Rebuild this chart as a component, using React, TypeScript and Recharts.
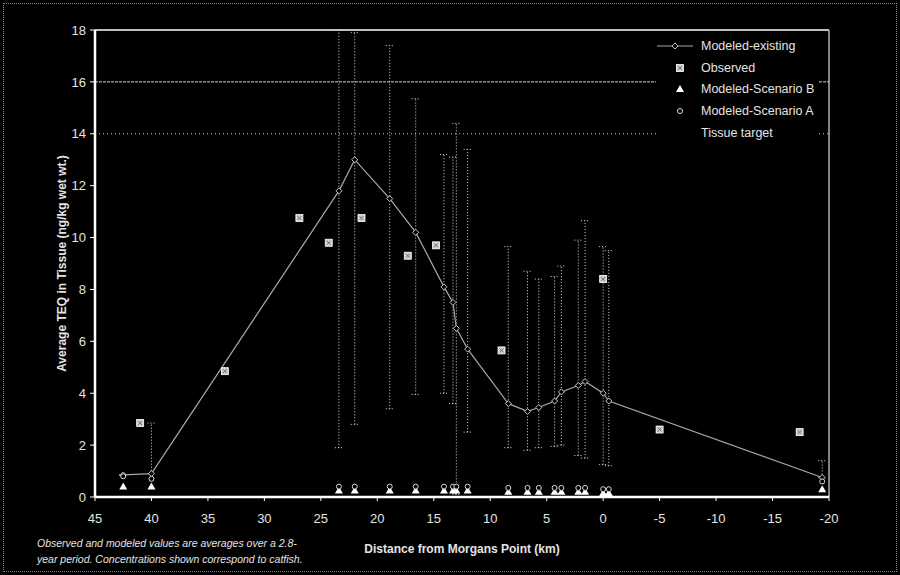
import React from "react";
import { ScatterChart, Scatter, XAxis, YAxis, ReferenceLine, ErrorBar, Legend } from "recharts";

// distance from Morgans Point (km) and average TEQ (ng/kg wet wt.)
const modeledKm = [42.5, 40, 23.4, 22, 18.9, 16.6, 14.1, 13.3, 13.0, 12.0, 8.4, 6.7, 5.7, 4.3, 3.7, 2.2, 1.6, 0, -0.5, -19.4];
const modeledTeq = [0.85, 0.9, 11.8, 13.0, 11.5, 10.2, 8.1, 7.5, 6.5, 5.7, 3.6, 3.3, 3.45, 3.7, 4.05, 4.3, 4.45, 4.0, 3.7, 0.75];
const modeledLow = [0.85, 0.9, 1.9, 2.8, 3.4, 3.95, 4.0, 3.6, 0.1, 2.5, 1.9, 1.8, 1.9, 1.95, 2.0, 1.6, 1.5, 1.25, 1.2, 0.75];
const modeledHigh = [0.85, 2.85, 18, 17.9, 17.4, 15.35, 13.2, 13.1, 14.4, 13.4, 9.65, 8.7, 8.4, 8.5, 8.9, 9.9, 10.65, 9.65, 9.5, 1.4];

const observedKm = [41, 33.5, 26.9, 24.3, 21.4, 17.3, 14.8, 9.0, 0, -5, -17.4];
const observedTeq = [2.85, 4.85, 10.75, 9.8, 10.75, 9.3, 9.7, 5.65, 8.4, 2.6, 2.5];

const scenarioATeq = [0.8, 0.7, 0.4, 0.4, 0.4, 0.4, 0.4, 0.4, 0.4, 0.4, 0.35, 0.35, 0.35, 0.35, 0.35, 0.35, 0.35, 0.3, 0.3, 0.6];
const scenarioBTeq = [0.4, 0.4, 0.25, 0.25, 0.25, 0.25, 0.25, 0.25, 0.25, 0.25, 0.2, 0.2, 0.2, 0.2, 0.2, 0.2, 0.2, 0.15, 0.15, 0.3];

const tissueTargets = [16, 14];
const xTicks = [45, 40, 35, 30, 25, 20, 15, 10, 5, 0, -5, -10, -15, -20];
const yTicks = [0, 2, 4, 6, 8, 10, 12, 14, 16, 18];

const FONT = '"Liberation Sans", Arial, sans-serif';
const INK = "#e4e4e4";

const modeled = modeledKm.map((x, i) => ({
  x,
  y: modeledTeq[i],
  err: [modeledTeq[i] - modeledLow[i], modeledHigh[i] - modeledTeq[i]],
}));
const observed = observedKm.map((x, i) => ({ x, y: observedTeq[i] }));
const scenarioA = modeledKm.map((x, i) => ({ x, y: scenarioATeq[i] }));
const scenarioB = modeledKm.map((x, i) => ({ x, y: scenarioBTeq[i] }));

const Diamond = ({ cx, cy }: any) => (
  <path d={`M${cx},${cy - 3}L${cx + 3},${cy}L${cx},${cy + 3}L${cx - 3},${cy}Z`} fill="#000" stroke="#c8c8c8" strokeWidth={1} />
);
const ObsSquare = ({ cx, cy }: any) => (
  <g>
    <rect x={cx - 3.5} y={cy - 3.5} width={7} height={7} fill="#cfcfcf" stroke="#fff" strokeWidth={0.8} />
    <path d={`M${cx - 2},${cy - 2}L${cx + 2},${cy + 2}M${cx + 2},${cy - 2}L${cx - 2},${cy + 2}`} stroke="#555" strokeWidth={0.8} />
  </g>
);
const Triangle = ({ cx, cy }: any) => (
  <path d={`M${cx},${cy - 4}L${cx + 4},${cy + 3}L${cx - 4},${cy + 3}Z`} fill="#fff" />
);
const SmallCircle = ({ cx, cy }: any) => (
  <circle cx={cx} cy={cy} r={2.5} fill="#000" stroke="#dcdcdc" strokeWidth={1} />
);

const legendItems = [
  { name: "Modeled-existing", icon: "line" },
  { name: "Observed", icon: "square" },
  { name: "Modeled-Scenario B", icon: "triangle" },
  { name: "Modeled-Scenario A", icon: "circle" },
  { name: "Tissue target", icon: "none" },
];

function LegendIcon({ kind }: { kind: string }) {
  return (
    <svg width={40} height={16} style={{ display: "block" }}>
      {kind === "line" && (
        <g>
          <line x1={1} y1={8} x2={37} y2={8} stroke="#a8a8a8" strokeWidth={1.2} />
          <Diamond cx={19} cy={8} />
        </g>
      )}
      {kind === "square" && <ObsSquare cx={24} cy={8} />}
      {kind === "triangle" && <Triangle cx={24} cy={8} />}
      {kind === "circle" && <SmallCircle cx={24} cy={8} />}
    </svg>
  );
}

function LegendBox() {
  return (
    <div style={{ background: "#000", paddingTop: 2 }}>
      {legendItems.map((it) => (
        <div key={it.name} style={{ display: "flex", alignItems: "center", height: 21.7 }}>
          <LegendIcon kind={it.icon} />
          <span style={{ fontFamily: FONT, fontSize: 12.5, color: INK, marginLeft: 5, whiteSpace: "nowrap" }}>{it.name}</span>
        </div>
      ))}
    </div>
  );
}

export default function App() {
  return (
    <div style={{ position: "fixed", left: 0, top: 0, width: 900, height: 575, background: "#000", overflow: "hidden" }}>
      <div style={{ position: "absolute", left: 3, top: 3, right: 3, bottom: 3, border: "1px dotted #8a8a8a" }} />
      <ScatterChart width={900} height={575} margin={{ top: 30, right: 71, bottom: 0, left: 35 }}>
        <XAxis
          type="number"
          dataKey="x"
          domain={[-20, 45]}
          reversed
          ticks={xTicks}
          allowDataOverflow
          height={78}
          tickSize={4}
          tickMargin={13}
          tick={{ fill: INK, fontSize: 13, fontFamily: FONT }}
          tickLine={{ stroke: "#fff" }}
          axisLine={{ stroke: "#fff", strokeWidth: 2.5 }}
          label={{
            value: "Distance from Morgans Point (km)",
            position: "insideBottom",
            offset: 22,
            fill: INK,
            fontSize: 12,
            fontWeight: "bold",
            fontFamily: FONT,
          }}
        />
        <YAxis
          type="number"
          dataKey="y"
          domain={[0, 18]}
          ticks={yTicks}
          allowDataOverflow
          width={60}
          tickSize={5}
          tickMargin={4}
          tick={{ fill: INK, fontSize: 13, fontFamily: FONT }}
          tickLine={{ stroke: "#fff" }}
          axisLine={{ stroke: "#fff", strokeWidth: 2.5 }}
          label={{
            value: "Average TEQ in Tissue (ng/kg wet wt.)",
            angle: -90,
            position: "insideLeft",
            offset: 27,
            fill: INK,
            fontSize: 12,
            fontWeight: "bold",
            fontFamily: FONT,
            style: { textAnchor: "middle" },
          }}
        />
        <ReferenceLine y={18} stroke="#fff" strokeWidth={1.5} />
        <ReferenceLine x={-20} stroke="#b0b0b0" strokeWidth={1.5} />
        <ReferenceLine y={tissueTargets[0]} stroke="#d0d0d0" strokeWidth={1} strokeDasharray="3 1" />
        <ReferenceLine y={tissueTargets[1]} stroke="#c0c0c0" strokeWidth={1} strokeDasharray="1 3" />
        <Legend
          verticalAlign="middle"
          align="center"
          layout="vertical"
          content={() => <LegendBox />}
          wrapperStyle={{ left: 656, top: 33, width: 162, height: 110 }}
        />
        <Scatter
          name="Modeled-existing"
          data={modeled}
          shape={Diamond}
          line={{ stroke: "#a8a8a8", strokeWidth: 1.2 }}
          lineType="joint"
          isAnimationActive={false}
        >
          <ErrorBar dataKey="err" direction="y" width={4} stroke="#dedede" strokeWidth={1} strokeDasharray="1 2" />
        </Scatter>
        <Scatter name="Modeled-Scenario B" data={scenarioB} shape={Triangle} isAnimationActive={false} />
        <Scatter name="Modeled-Scenario A" data={scenarioA} shape={SmallCircle} isAnimationActive={false} />
        <Scatter name="Observed" data={observed} shape={ObsSquare} isAnimationActive={false} />
      </ScatterChart>
      <div
        style={{
          position: "absolute",
          left: 37,
          top: 535,
          fontFamily: FONT,
          fontStyle: "italic",
          fontSize: 10.5,
          lineHeight: "16px",
          color: INK,
        }}
      >
        Observed and modeled values are averages over a 2.8-
        <br />
        year period. Concentrations shown correspond to catfish.
      </div>
    </div>
  );
}
